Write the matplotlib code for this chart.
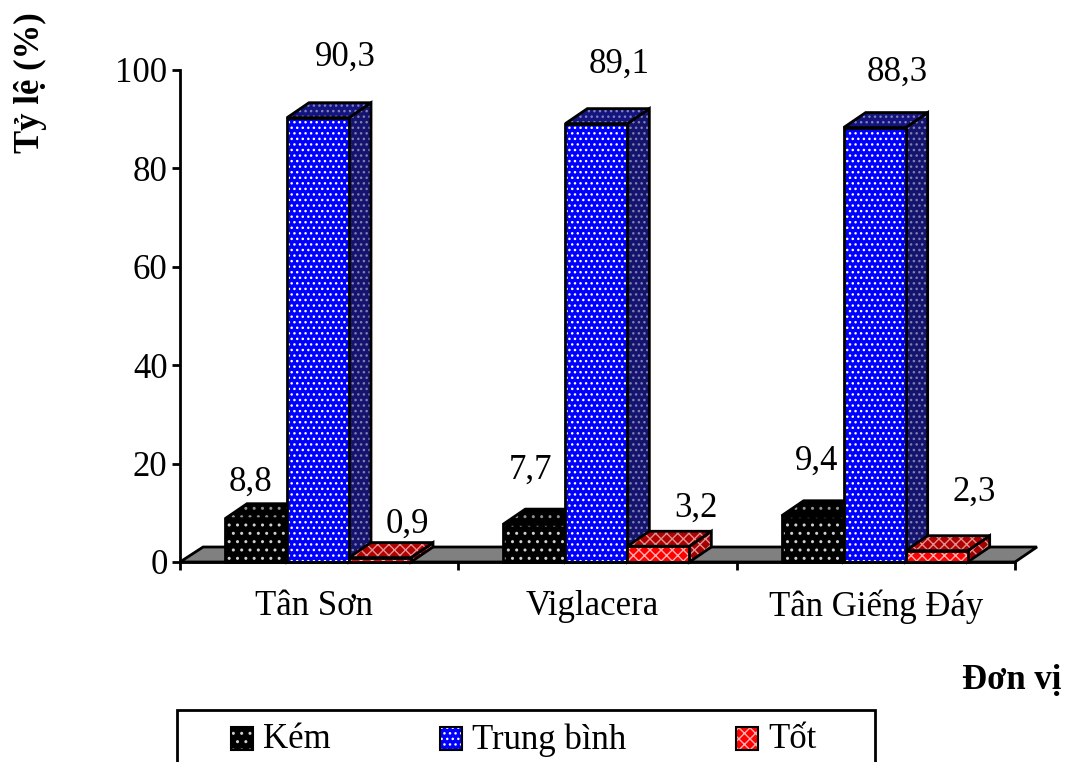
import matplotlib
matplotlib.use("Agg")
import matplotlib.pyplot as plt
from matplotlib.patches import Polygon, Rectangle
import matplotlib.transforms as mtrans

plt.rcParams['font.family'] = ['Liberation Serif', 'DejaVu Serif']
plt.rcParams['hatch.linewidth'] = 1.0

groups = ['Tân Sơn', 'Viglacera', 'Tân Giếng Đáy']
series = ['Kém', 'Trung bình', 'Tốt']
kem = [8.8, 7.7, 9.4]
trung_binh = [90.3, 89.1, 88.3]
tot = [0.9, 3.2, 2.3]
y_ticks = [0, 20, 40, 60, 80, 100]

values = [kem, trung_binh, tot]
styles = [
    dict(front='#000000', side='#000000', top='#000000', hatch='..', hc='#d0d0d0', ht='#909090', hs='#909090'),
    dict(front='#0000ff', side='#14146e', top='#14147e', hatch='...', hc='#ffffff', ht='#8080c0', hs='#8080b0'),
    dict(front='#ff0000', side='#a00000', top='#b00000', hatch='xxx', hc='#ffb0b0', ht='#e09090', hs='#e09090'),
]
label_offsets = [[(-6, 36), (27, 60), (27, 33)],
                 [(-4, 54), (23, 59), (38, 38)],
                 [(4, 55), (23, 55), (38, 58)]]
legend_swatch_px = [231, 440, 736]
legend_text_px = [263, 472, 768]

W, H = 1070, 762
FS = 25
fig = plt.figure(figsize=(W / 100, H / 100), dpi=100, facecolor='white')
ax = fig.add_axes([180 / W, (H - 562) / H, 835 / W, 492 / H])
ax.set_xlim(0, 3)
ax.set_ylim(0, 100)
ax.patch.set_alpha(0)

dx = 22 / (835 / 3)
dy = 15 / 4.92
bw = 62 / (835 / 3)
start = 45 / (835 / 3)
LW = 2.0


def poly(pts, fc, hatch=None, hc=None, z=3):
    if hatch:
        ax.add_patch(Polygon(pts, closed=True, facecolor=fc, edgecolor=hc, hatch=hatch,
                             lw=0, clip_on=False, zorder=z))
        ax.add_patch(Polygon(pts, closed=True, fill=False, edgecolor='black', lw=LW,
                             clip_on=False, zorder=z, joinstyle='miter'))
    else:
        ax.add_patch(Polygon(pts, closed=True, facecolor=fc, edgecolor='black', lw=LW,
                             clip_on=False, zorder=z, joinstyle='miter'))


# floor
poly([(0, 0), (dx * 1.05, dy), (3 + dx, dy), (3, 0)], '#808080', z=1)

for g in range(3):
    for s in range(3):
        v = values[s][g]
        st = styles[s]
        x0 = g + start + s * bw
        x1 = x0 + bw
        poly([(x1, 0), (x1 + dx, dy), (x1 + dx, v + dy), (x1, v)], st['side'], st['hatch'], st['hs'], z=3)
        poly([(x0, v), (x0 + dx, v + dy), (x1 + dx, v + dy), (x1, v)], st['top'], st['hatch'], st['ht'], z=3)
        poly([(x0, 0), (x0, v), (x1, v), (x1, 0)], st['front'], st['hatch'], st['hc'], z=3)
        ox, oy = label_offsets[g][s]
        ax.annotate(f'{v:.1f}'.replace('.', ','), xy=((x0 + x1) / 2, v), xytext=(ox, oy),
                    textcoords='offset pixels', ha='center', va='center',
                    fontsize=FS, color='black', zorder=6, annotation_clip=False)

for sp in ['top', 'right']:
    ax.spines[sp].set_visible(False)
for sp in ['left', 'bottom']:
    ax.spines[sp].set_linewidth(LW)
    ax.spines[sp].set_zorder(5)

ax.set_yticks(y_ticks)
ax.tick_params(axis='y', direction='out', length=6, width=LW, labelsize=FS, pad=3)
ax.set_xticks([0, 1, 2, 3])
ax.set_xticklabels([])
ax.tick_params(axis='x', which='major', direction='out', length=6, width=LW)
ax.set_xticks([0.5, 1.5, 2.5], minor=True)
ax.set_xticklabels(groups, minor=True)
ax.tick_params(axis='x', which='minor', length=0, labelsize=FS, pad=20)
for lab, shift in zip(ax.get_xticklabels(minor=True), [-5, -5, 0]):
    lab.set_transform(lab.get_transform() + mtrans.Affine2D().translate(shift, 0))

fig.text(30 / W, 1 - 83 / H, 'Tỷ lệ (%)', rotation=90, ha='center', va='center',
         fontsize=25, fontweight='bold')
fig.text(1012 / W, 1 - 680 / H, 'Đơn vị', ha='center', va='center',
         fontsize=25, fontweight='bold')

# legend box runs past the bottom edge of the picture, as in the reference
fig.add_artist(Rectangle((177 / W, 1 - 780 / H), (875 - 177) / W, 70 / H, transform=fig.transFigure,
                         facecolor='white', edgecolor='black', lw=LW, joinstyle='miter'))
for name, st, sx, tx in zip(series, styles, legend_swatch_px, legend_text_px):
    fig.add_artist(Rectangle((sx / W, 1 - 750 / H), 22 / W, 23 / H, transform=fig.transFigure,
                             facecolor=st['front'], edgecolor=st['hc'], hatch=st['hatch'], lw=0))
    fig.add_artist(Rectangle((sx / W, 1 - 750 / H), 22 / W, 23 / H, transform=fig.transFigure,
                             fill=False, edgecolor='black', lw=1.5))
    fig.text(tx / W, 1 - 740 / H, name, ha='left', va='center', fontsize=FS)

fig.savefig('out.png', dpi=100)
